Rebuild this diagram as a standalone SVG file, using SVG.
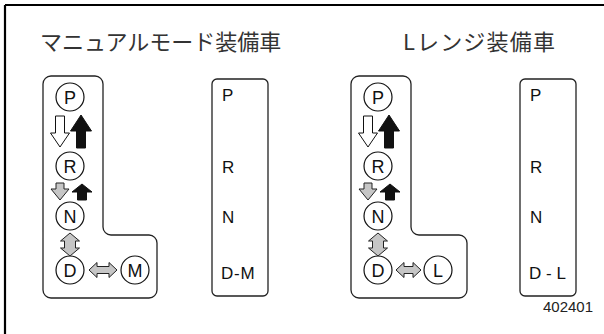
<svg xmlns="http://www.w3.org/2000/svg" width="604" height="334" viewBox="0 0 604 334">
<style>
.frame{stroke:#000;stroke-width:2.2;fill:none}
.box{fill:#fff;stroke:#222;stroke-width:1.3}
.circ{fill:#fff;stroke:#111;stroke-width:1.2}
.cl{font-family:"Liberation Sans",Arial,sans-serif;font-size:18px;fill:#111;text-anchor:middle}
.lab{font-family:"Liberation Sans",Arial,sans-serif;font-size:17px;fill:#111}
.title{font-family:"Noto Sans CJK JP","Noto Sans",sans-serif;font-size:22px;fill:#333}
.num{font-family:"Liberation Sans",Arial,sans-serif;font-size:15px;fill:#222}
.aw{fill:#fff;stroke:#111;stroke-width:1;stroke-linejoin:miter}
.ab{fill:#111;stroke:#111;stroke-width:1}
.ag{fill:#c6c6c6;stroke:#222;stroke-width:1}
</style>
<defs>
<path id="bigDown" d="M-4.5,0 H4.5 V17 H9.5 L0,31 L-9.5,17 H-4.5 Z"/>
<path id="bigUp" d="M0,0 L10.5,16 H4.5 V33 H-4.5 V16 H-10.5 Z"/>
<path id="smDown" d="M-4,0 H4 V6 H9 L0,17 L-9,6 H-4 Z"/>
<path id="smUp" d="M0,0 L10,8 H4.5 V16 H-4.5 V8 H-10 Z"/>
<path id="vDouble" d="M0,0 L9.5,8 H5.5 V15 H9.5 L0,23 L-9.5,15 H-5.5 V8 H-9.5 Z"/>
</defs>
<g id="frame">
<line class="frame" x1="5" y1="5" x2="604" y2="5"/>
<line class="frame" x1="5" y1="5" x2="5" y2="334"/>
</g>
<g id="title-manual"><text class="title" x="40" y="50">マニュアルモード装備車</text></g>
<g id="title-lrange"><text class="title" x="403" y="50">L<tspan dx="2" letter-spacing="1.2">レンジ装備車</tspan></text></g>

<g id="gate-manual">
<path class="box" d="M51,76 H95 A8,8 0 0 1 103,84 V227 A8,8 0 0 0 111,235 H149 A8,8 0 0 1 157,243 V290 A8,8 0 0 1 149,298 H51 A8,8 0 0 1 43,290 V84 A8,8 0 0 1 51,76 Z"/>
</g>
<g id="m-P"><circle class="circ" cx="70" cy="97" r="14"/><text class="cl" x="70" y="103.5">P</text></g>
<g id="m-R"><circle class="circ" cx="70" cy="166" r="14"/><text class="cl" x="70" y="172.5">R</text></g>
<g id="m-N"><circle class="circ" cx="70" cy="216" r="14"/><text class="cl" x="70" y="222.5">N</text></g>
<g id="m-D"><circle class="circ" cx="70" cy="270" r="14"/><text class="cl" x="70" y="276.5">D</text></g>
<g id="m-M"><circle class="circ" cx="135" cy="270" r="14"/><text class="cl" x="135" y="276.5">M</text></g>

<g id="indicator-manual">
<rect class="box" x="212" y="79" width="56" height="217" rx="5"/>
<text class="lab" x="222" y="101">P</text>
<text class="lab" x="222" y="173">R</text>
<text class="lab" x="222" y="223">N</text>
<text class="lab" x="221" y="279" letter-spacing="0.8">D-M</text>
</g>

<g id="gate-lrange">
<path class="box" d="M359,76 H403 A8,8 0 0 1 411,84 V227 A8,8 0 0 0 419,235 H459 A8,8 0 0 1 467,243 V290 A8,8 0 0 1 459,298 H359 A8,8 0 0 1 351,290 V84 A8,8 0 0 1 359,76 Z"/>
</g>
<g id="l-P"><circle class="circ" cx="378" cy="97" r="14"/><text class="cl" x="378" y="103.5">P</text></g>
<g id="l-R"><circle class="circ" cx="378" cy="166" r="14"/><text class="cl" x="378" y="172.5">R</text></g>
<g id="l-N"><circle class="circ" cx="378" cy="216" r="14"/><text class="cl" x="378" y="222.5">N</text></g>
<g id="l-D"><circle class="circ" cx="378" cy="270" r="14"/><text class="cl" x="378" y="276.5">D</text></g>
<g id="l-L"><circle class="circ" cx="438" cy="270" r="14"/><text class="cl" x="438" y="276.5">L</text></g>

<g id="indicator-lrange">
<rect class="box" x="520" y="79" width="56" height="217" rx="5"/>
<text class="lab" x="530" y="101">P</text>
<text class="lab" x="530" y="173">R</text>
<text class="lab" x="530" y="223">N</text>
<text class="lab" x="529" y="279" xml:space="preserve">D - L</text>
</g>

<g id="connectors">
<use href="#bigDown" class="aw" x="60" y="116"/>
<use href="#bigUp" class="ab" x="81" y="115"/>
<use href="#smDown" class="ag" x="60" y="183"/>
<use href="#smUp" class="ab" x="82" y="184"/>
<use href="#vDouble" class="ag" x="70" y="233"/>
<path class="ag" d="M89,270 L97,262.5 V266.5 H109 V262.5 L117,270 L109,277.5 V273.5 H97 V277.5 Z"/>

<use href="#bigDown" class="aw" x="368" y="116"/>
<use href="#bigUp" class="ab" x="389" y="115"/>
<use href="#smDown" class="ag" x="368" y="183"/>
<use href="#smUp" class="ab" x="390" y="184"/>
<use href="#vDouble" class="ag" x="378" y="233"/>
<path class="ag" d="M396,270 L404,262.5 V266.5 H413 V262.5 L421,270 L413,277.5 V273.5 H404 V277.5 Z"/>
</g>
<g id="figure-number"><text class="num" x="543" y="312">402401</text></g>
</svg>
